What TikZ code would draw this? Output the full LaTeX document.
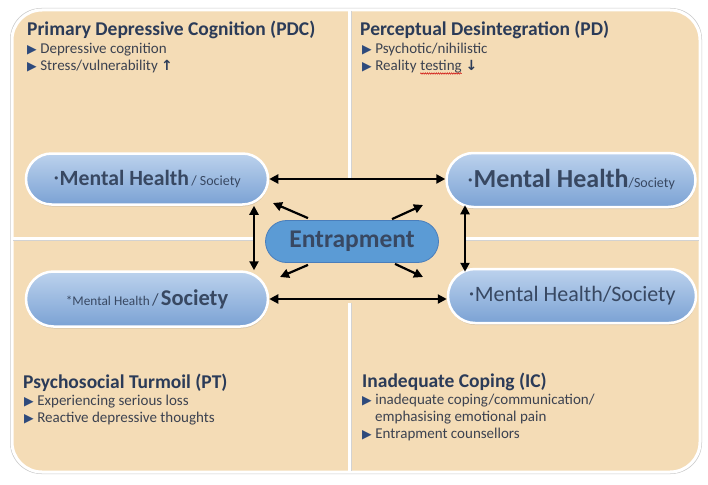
\documentclass[tikz,border=0pt]{standalone}
\usepackage{fontspec}
\setmainfont{Carlito}
\newfontfamily\symf{DejaVu Sans}
\usetikzlibrary{arrows.meta,shapes.misc,shadows,decorations.pathmorphing}
\definecolor{beige}{HTML}{F4DCB6}
\definecolor{headc}{HTML}{2B3B58}
\definecolor{bodyc}{HTML}{3C4250}
\definecolor{bulc}{HTML}{2E4A7C}
\definecolor{pilltop}{HTML}{BCD2ED}
\definecolor{pillbot}{HTML}{7BA2D4}
\definecolor{pilltxt}{HTML}{384862}
\definecolor{entfill}{HTML}{5B9BD5}
\definecolor{entdraw}{HTML}{4A7EBB}
\newcommand\bul{{\symf\fontsize{12.5}{12.5}\selectfont\color{bulc}▶}\hspace{3.5pt}}
\newcommand\dotb{\raisebox{3pt}{\symf\fontsize{11}{11}\selectfont •}}
\begin{document}
\begin{tikzpicture}[x=1pt,y=-1pt,
  head/.style={anchor=base west, inner sep=0, font=\bfseries\fontsize{19.5}{19.5}\selectfont, text=headc},
  item/.style={anchor=base west, inner sep=0, font=\fontsize{15}{15}\selectfont, text=bodyc},
  pill/.style={rounded rectangle, draw=white, line width=2.5pt, top color=pilltop, bottom color=pillbot,
    text=pilltxt, inner sep=0, drop shadow={shadow xshift=0.5pt, shadow yshift=-2pt, opacity=0.25}},
  arr/.style={line width=2.2pt, {Triangle[length=9pt,width=9pt]}-{Triangle[length=9pt,width=9pt]}},
  sarr/.style={line width=2.2pt, -{Triangle[length=9pt,width=9pt]}},
  divider/.style={line width=4pt, draw=gray!35},
  dividerw/.style={line width=2.5pt, draw=white}]
\useasboundingbox (0,0) rectangle (708,484);
\fill[white] (0,0) rectangle (708,484);
% frame
\draw[gray!40, line width=1pt, rounded corners=31, fill=gray!25] (10.5,8.5) rectangle (701.5,473.5);
\draw[fill=beige, draw=white, line width=3pt, rounded corners=30] (12,10) rectangle (700,472);
% dividers
\draw[divider] (349.5,11) -- (349.5,471);
\draw[dividerw] (349.5,11) -- (349.5,471);
\draw[divider] (13,238.5) -- (699,238.5);
\draw[dividerw] (13,238.5) -- (699,238.5);
% centre area
\fill[beige] (253,179) rectangle (466,303);
% texts
\node[head] (h1) at (27,36) {Primary Depressive Cognition (PDC)};
\node[item] (a1) at (27,54) {\bul Depressive cognition};
\node[item] (a2) at (27,71) {\bul Stress/vulnerability {\symf\bfseries\fontsize{14}{14}\selectfont\color{headc}↑}};
\node[head] (h2) at (360,36) {Perceptual Desintegration (PD)};
\node[item] (b1) at (362,54) {\bul Psychotic/nihilistic};
\node[item] (b2) at (362,71) {\bul Reality \smash{\tikz[baseline=0pt]{\node[inner sep=0,anchor=base west] (tst) at (0,0) {testing};
  \draw[red!80!black, line width=0.5pt, decorate, decoration={snake, segment length=2.2pt, amplitude=0.7pt}] ([yshift=-2.5pt]tst.base west) -- ([yshift=-2.5pt]tst.base east);}}
  {\symf\bfseries\fontsize{14}{14}\selectfont\color{headc}↓}};
\node[head] (h3) at (23,388) {Psychosocial Turmoil (PT)};
\node[item] (c1) at (24,405) {\bul Experiencing serious loss};
\node[item] (c2) at (24,422) {\bul Reactive depressive thoughts};
\node[head] (h4) at (362,387) {Inadequate Coping (IC)};
\node[item] (e1) at (362,404) {\bul inadequate coping/communication/};
\node[item] (e2) at (375,421) {emphasising emotional pain};
\node[item] (e3) at (362,438) {\bul Entrapment counsellors};
% pills
\node[pill, minimum width=242pt, minimum height=51pt] (tl) at (147,179)
  {\dotb{\bfseries\fontsize{21.7}{21.7}\selectfont Mental Health} {\fontsize{14}{14}\selectfont / Society}};
\node[pill, minimum width=249pt, minimum height=54pt] (tr) at (571,180)
  {\dotb{\bfseries\fontsize{26}{26}\selectfont Mental Health}{\fontsize{14}{14}\selectfont /Society}};
\node[pill, minimum width=242pt, minimum height=55pt] (bl) at (147,299)
  {{\fontsize{13.3}{13.3}\selectfont *Mental Health} {\fontsize{17}{17}\selectfont /} {\bfseries\fontsize{22.5}{22.5}\selectfont Society}};
\node[pill, minimum width=248pt, minimum height=54pt] (br) at (572,296)
  {\dotb{\fontsize{22}{22}\selectfont Mental Health/Society}};
\node[rounded rectangle, fill=entfill, draw=entdraw, line width=0.8pt, minimum width=173pt, minimum height=42pt,
  inner sep=0, text=pilltxt, font=\bfseries\fontsize{25.5}{25.5}\selectfont] (ent) at (352,241.5) {Entrapment};
% connectors
\coordinate (lv) at (254,0);
\coordinate (rv) at (465,0);
\draw[arr] (tl.east) -- (tl.east -| tr.west);
\draw[arr] (bl.east) -- (bl.east -| br.west);
\draw[arr] (tl.south -| lv) -- (bl.north -| lv);
\draw[arr, shorten <=-3pt, shorten >=-4pt] (tr.south -| rv) -- (br.north -| rv);
\coordinate (d1) at (273,203);
\coordinate (d2) at (423,205);
\coordinate (d3) at (280,277);
\coordinate (d4) at (423,277);
\draw[sarr] ([xshift=-44pt,yshift=2pt]ent.north) -- (d1);
\draw[sarr] ([xshift=40pt,yshift=1pt]ent.north) -- (d2);
\draw[sarr] ([xshift=-44pt,yshift=-2pt]ent.south) -- (d3);
\draw[sarr] ([xshift=43pt,yshift=-1pt]ent.south) -- (d4);
\end{tikzpicture}
\end{document}
